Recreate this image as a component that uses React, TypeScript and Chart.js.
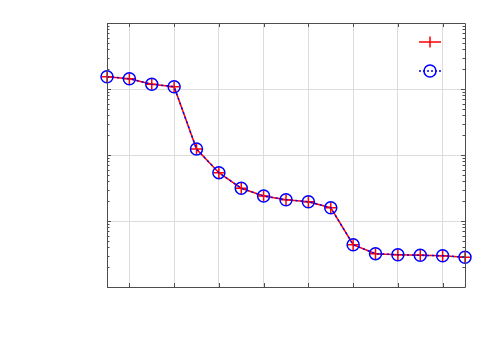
import React, { useEffect, useRef } from "react";
import { Chart, registerables } from "chart.js";

Chart.register(...registerables);

const xValues = [1, 2, 3, 4, 5, 6, 7, 8, 9, 10, 11, 12, 13, 14, 15, 16, 17];
const yValues = [
  0.1535, 0.143, 0.1178, 0.1084, 0.01233, 0.0054, 0.00313, 0.00239, 0.0021,
  0.00196, 0.00159, 0.000437, 0.00032, 0.000309, 0.000302, 0.000298, 0.000282,
];
const xTicks = [2, 4, 6, 8, 10, 12, 14, 16];
const yMajorTicks = [1e-4, 1e-3, 1e-2, 1e-1, 1];
const yMin = 1e-4;
const yMax = 1;

const axisPlugin = {
  id: "matlabAxes",
  afterDraw(chart: any) {
    const { ctx, chartArea: a, scales } = chart;
    const xs = scales.x;
    const ys = scales.y;
    ctx.save();
    ctx.strokeStyle = "#4d4d4d";
    ctx.lineWidth = 1;
    ctx.beginPath();
    ctx.rect(Math.round(a.left) + 0.5, Math.round(a.top) + 0.5, Math.round(a.right - a.left), Math.round(a.bottom - a.top));
    ctx.stroke();
    ctx.beginPath();
    for (const v of xTicks) {
      const px = Math.round(xs.getPixelForValue(v)) + 0.5;
      ctx.moveTo(px, a.bottom);
      ctx.lineTo(px, a.bottom - 4);
      ctx.moveTo(px, a.top);
      ctx.lineTo(px, a.top + 4);
    }
    for (let e = -4; e <= 0; e++) {
      for (let m = 1; m <= 9; m++) {
        const v = m * Math.pow(10, e);
        if (v < yMin * 0.999 || v > yMax * 1.001) continue;
        const py = Math.round(ys.getPixelForValue(v)) + 0.5;
        const len = m === 1 ? 4 : 2.5;
        ctx.moveTo(a.left, py);
        ctx.lineTo(a.left + len, py);
        ctx.moveTo(a.right, py);
        ctx.lineTo(a.right - len, py);
      }
    }
    ctx.stroke();

    // legend
    const lx = a.right - 35;
    const ly1 = a.top + 19;
    const ly2 = a.top + 48;
    ctx.strokeStyle = "#ff0000";
    ctx.lineWidth = 1.5;
    ctx.beginPath();
    ctx.moveTo(lx - 11, ly1);
    ctx.lineTo(lx + 11, ly1);
    ctx.moveTo(lx, ly1 - 5.5);
    ctx.lineTo(lx, ly1 + 5.5);
    ctx.stroke();
    ctx.strokeStyle = "#0000ff";
    ctx.setLineDash([2, 2]);
    ctx.beginPath();
    ctx.moveTo(lx - 11, ly2);
    ctx.lineTo(lx + 11, ly2);
    ctx.stroke();
    ctx.setLineDash([]);
    ctx.beginPath();
    ctx.arc(lx, ly2, 6, 0, Math.PI * 2);
    ctx.stroke();
    ctx.restore();
  },
};

export default function App() {
  const ref = useRef<HTMLCanvasElement>(null);
  useEffect(() => {
    document.body.style.margin = "0";
    const pts = xValues.map((x, i) => ({ x, y: yValues[i] }));
    const chart = new Chart(ref.current!, {
      type: "line",
      data: {
        datasets: [
          {
            data: pts,
            borderColor: "#ff0000",
            borderWidth: 1.5,
            pointStyle: "cross",
            pointRadius: 5.5,
            pointBorderColor: "#ff0000",
            pointBorderWidth: 1.5,
            pointBackgroundColor: "transparent",
            clip: false,
            order: 1,
          },
          {
            data: pts,
            borderColor: "#0000ff",
            borderWidth: 1.5,
            borderDash: [2, 3],
            pointStyle: "circle",
            pointRadius: 6,
            pointBorderColor: "#0000ff",
            pointBorderWidth: 1.5,
            pointBackgroundColor: "transparent",
            clip: false,
            order: 0,
          },
        ],
      },
      options: {
        responsive: false,
        animation: false,
        events: [],
        layout: { padding: { left: 107, top: 23, right: 35, bottom: 63 } },
        plugins: { legend: { display: false }, tooltip: { enabled: false } },
        scales: {
          x: {
            type: "linear",
            min: 1,
            max: 17,
            afterBuildTicks: (s: any) => {
              s.ticks = xTicks.map((v) => ({ value: v }));
            },
            afterFit: (s: any) => {
              s.height = 0;
            },
            ticks: { display: false },
            border: { display: false },
            grid: { color: "#dcdcdc", drawTicks: false, lineWidth: 1 },
          },
          y: {
            type: "logarithmic",
            min: yMin,
            max: yMax,
            afterBuildTicks: (s: any) => {
              s.ticks = yMajorTicks.map((v) => ({ value: v, major: true }));
            },
            afterFit: (s: any) => {
              s.width = 0;
            },
            ticks: { display: false },
            border: { display: false },
            grid: { color: "#dcdcdc", drawTicks: false, lineWidth: 1 },
          },
        },
      },
      plugins: [axisPlugin],
    });
    return () => chart.destroy();
  }, []);
  return (
    <div style={{ width: 500, height: 350, background: "#fff" }}>
      <canvas ref={ref} width={500} height={350} />
    </div>
  );
}
